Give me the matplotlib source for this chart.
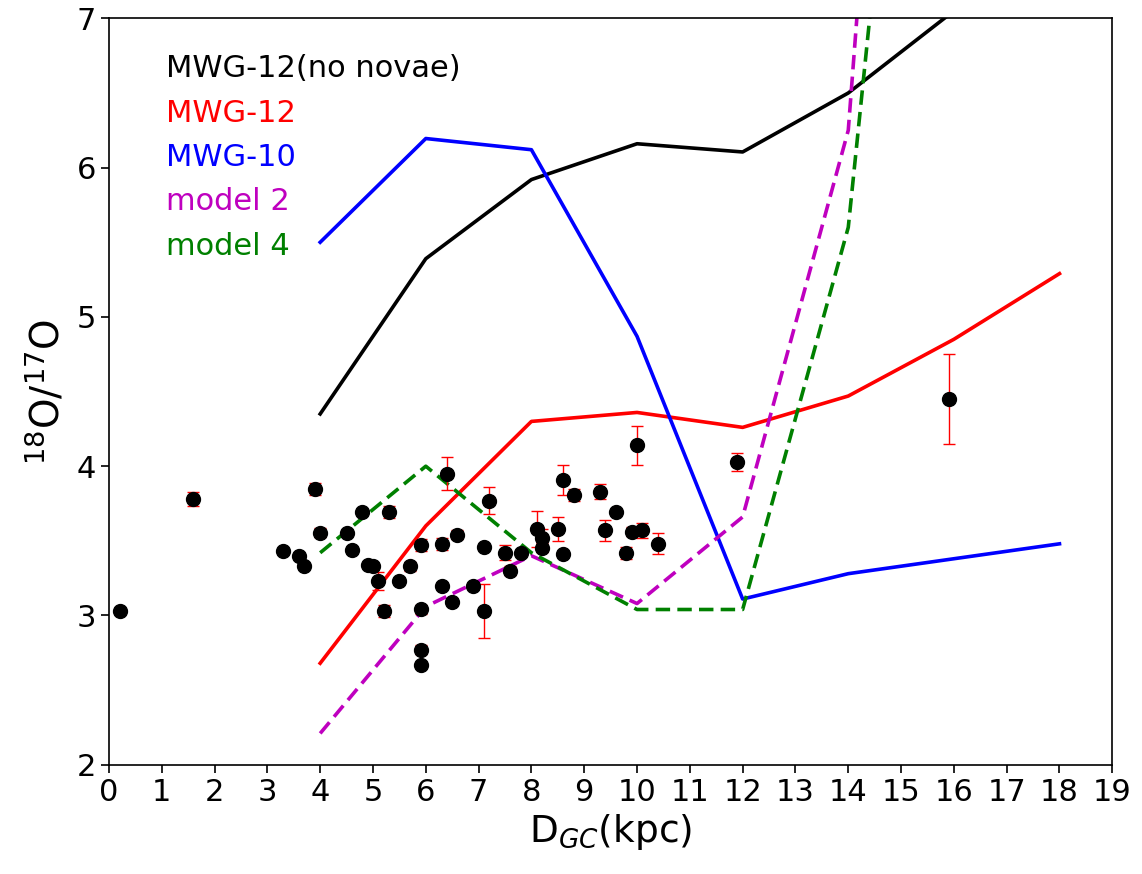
import matplotlib
matplotlib.use("Agg")
import matplotlib.pyplot as plt

# Observed 18O/17O ratios versus galactocentric distance
obs_dgc = [0.2, 1.6, 3.3, 3.6, 3.7, 3.9, 4.0, 4.5, 4.6, 4.8, 4.9, 5.0, 5.1, 5.2,
           5.3, 5.5, 5.7, 5.9, 5.9, 5.9, 5.9, 6.3, 6.3, 6.4, 6.5, 6.6, 6.9, 7.1,
           7.1, 7.2, 7.5, 7.6, 7.8, 8.1, 8.2, 8.2, 8.5, 8.6, 8.6, 8.8, 9.3, 9.4,
           9.6, 9.8, 9.9, 10.0, 10.1, 10.4, 11.9, 15.9]
obs_ratio = [3.03, 3.78, 3.43, 3.40, 3.33, 3.85, 3.555, 3.555, 3.44, 3.69, 3.34,
             3.33, 3.23, 3.03, 3.69, 3.23, 3.33, 3.47, 3.04, 2.77, 2.67, 3.48,
             3.20, 3.95, 3.09, 3.54, 3.20, 3.46, 3.03, 3.77, 3.42, 3.30, 3.42,
             3.58, 3.52, 3.455, 3.58, 3.91, 3.41, 3.81, 3.83, 3.57, 3.69, 3.42,
             3.56, 4.14, 3.57, 3.48, 4.03, 4.45]
obs_err = [0.02, 0.05, 0.02, 0.02, 0.02, 0.04, 0.03, 0.02, 0.02, 0.02, 0.02,
           0.02, 0.06, 0.04, 0.04, 0.02, 0.03, 0.04, 0.03, 0.03, 0.02, 0.04,
           0.02, 0.11, 0.02, 0.03, 0.02, 0.02, 0.18, 0.09, 0.05, 0.03, 0.02,
           0.12, 0.06, 0.03, 0.08, 0.10, 0.02, 0.04, 0.05, 0.07, 0.02, 0.04,
           0.03, 0.13, 0.05, 0.07, 0.06, 0.30]

# Chemical evolution model tracks
model_dgc = [4, 6, 8, 10, 12, 14, 16, 18]
mwg12_no_novae = [4.35, 5.39, 5.92, 6.16, 6.105, 6.50, 7.05, 7.60]
mwg12 = [2.68, 3.60, 4.30, 4.36, 4.26, 4.47, 4.85, 5.29]
mwg10 = [5.50, 6.195, 6.12, 4.87, 3.11, 3.28, 3.38, 3.48]
model2 = [2.21, 3.06, 3.40, 3.08, 3.66, 6.25, 15.5, 20.0]
model4 = [3.42, 4.00, 3.42, 3.04, 3.04, 5.60, 12.5, 18.0]

fig = plt.figure(figsize=(11.42, 8.74), dpi=100)
ax = fig.add_axes([0.0954, 0.125, 0.8786, 0.854])

lw = 2.6
ax.plot(model_dgc, mwg12_no_novae, color="black", lw=lw, label="MWG-12(no novae)")
ax.plot(model_dgc, mwg12, color="red", lw=lw, label="MWG-12")
ax.plot(model_dgc, mwg10, color="blue", lw=lw, label="MWG-10")
ax.plot(model_dgc, model2, color="m", lw=lw, ls="--", dashes=(4, 2), label="model 2")
ax.plot(model_dgc, model4, color="green", lw=lw, ls="--", dashes=(4, 2), label="model 4")

ax.errorbar(obs_dgc, obs_ratio, yerr=obs_err, fmt="o", color="black", ms=10,
            ecolor="red", elinewidth=1.0, capsize=4, capthick=1.0, zorder=5)

ax.set_xlim(0, 19)
ax.set_ylim(2, 7)
ax.set_xticks(range(0, 20))
ax.set_yticks([2, 3, 4, 5, 6, 7])
ax.tick_params(labelsize=22, length=6, width=1.2)
for sp in ax.spines.values():
    sp.set_linewidth(1.2)

ax.set_xlabel("D$_{GC}$(kpc)", fontsize=27, labelpad=4)
ax.set_ylabel("$^{18}$O/$^{17}$O", fontsize=28, labelpad=6)

leg = ax.legend(loc="upper left", frameon=False, fontsize=22, handlelength=0,
                handletextpad=0, labelcolor="linecolor", labelspacing=0.5,
                bbox_to_anchor=(0.045, 0.968), borderaxespad=0)
for h in leg.legend_handles:
    h.set_visible(False)

fig.savefig("out.png", dpi=100)
